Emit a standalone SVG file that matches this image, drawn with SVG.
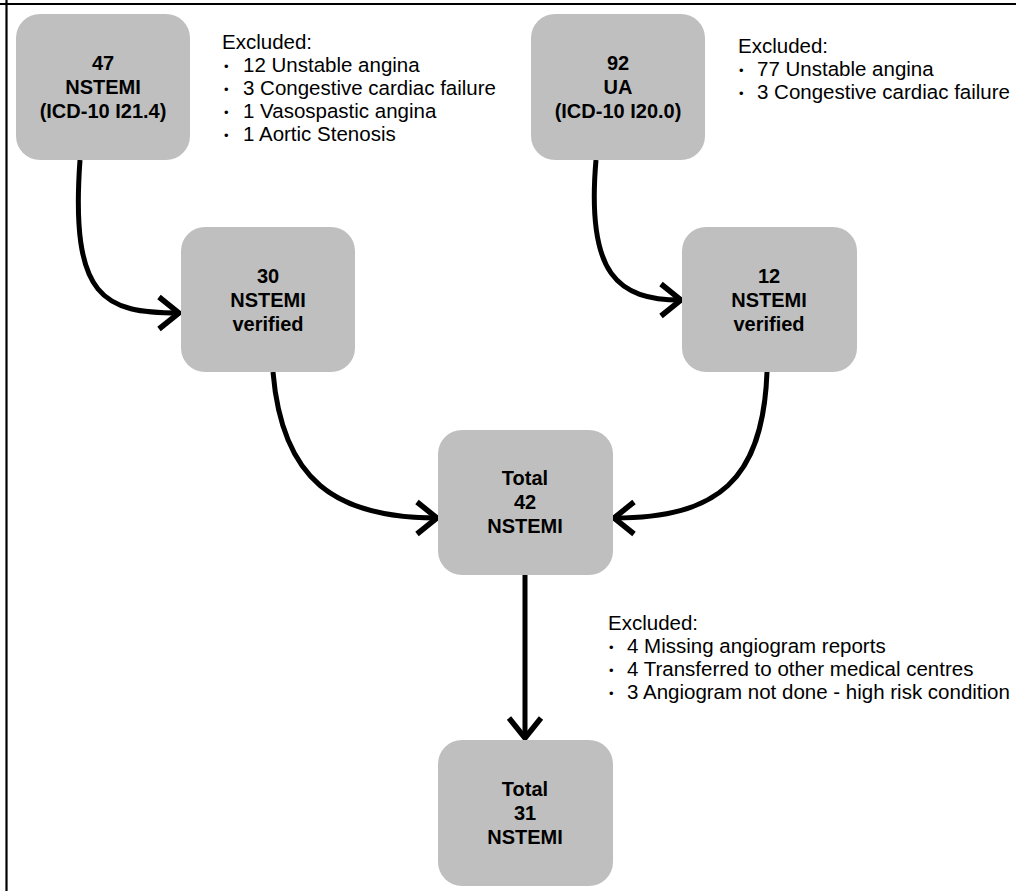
<svg xmlns="http://www.w3.org/2000/svg" width="1016" height="891" viewBox="0 0 1016 891">
<defs>
<marker id="chev" viewBox="0 0 28 38" refX="24" refY="19" markerWidth="28" markerHeight="38" orient="auto" markerUnits="userSpaceOnUse">
<path d="M4,3 L24,19 L4,35" fill="none" stroke="#000" stroke-width="5.5" stroke-linecap="butt" stroke-linejoin="miter"/>
</marker>
</defs>
<style>
.box{fill:#bfbfbf;}
.nt{font-family:"Liberation Sans",Arial,sans-serif;font-weight:bold;font-size:20px;fill:#000;text-anchor:middle;}
.ex{font-family:"Liberation Sans",Arial,sans-serif;font-size:20.5px;fill:#000;}
.bl{font-family:"Liberation Sans",Arial,sans-serif;font-size:13px;fill:#000;}
.edge{fill:none;stroke:#000;stroke-width:5;marker-end:url(#chev);}
.frame{stroke:#000;stroke-width:2.2;}
</style>
<rect width="1016" height="891" fill="#fff"/>
<line class="frame" x1="0" y1="4" x2="1016" y2="4"/>
<line class="frame" x1="6.5" y1="0" x2="6.5" y2="891"/>

<g id="connectors">
<path class="edge" d="M80,160 C70,300 105,313 179,313"/>
<path class="edge" d="M596,160 C586,275 618,300 681,300"/>
<path class="edge" d="M273,372 C282,480 335,518 437,518"/>
<path class="edge" d="M767,372 C763,480 718,518 614,518"/>
<path class="edge" d="M525,575 L525,738"/>
</g>

<g id="n47">
<rect class="box" x="16" y="14" width="174" height="146" rx="24"/>
<text class="nt" x="103" y="70">47</text>
<text class="nt" x="103" y="94">NSTEMI</text>
<text class="nt" x="103" y="118">(ICD-10 I21.4)</text>
</g>
<g id="n92">
<rect class="box" x="531" y="14" width="174" height="146" rx="24"/>
<text class="nt" x="618" y="70">92</text>
<text class="nt" x="618" y="94">UA</text>
<text class="nt" x="618" y="118">(ICD-10 I20.0)</text>
</g>
<g id="n30">
<rect class="box" x="181" y="227" width="174" height="145" rx="24"/>
<text class="nt" x="268" y="283">30</text>
<text class="nt" x="268" y="307">NSTEMI</text>
<text class="nt" x="268" y="331">verified</text>
</g>
<g id="n12">
<rect class="box" x="682" y="227" width="175" height="145" rx="24"/>
<text class="nt" x="769" y="283">12</text>
<text class="nt" x="769" y="307">NSTEMI</text>
<text class="nt" x="769" y="331">verified</text>
</g>
<g id="n42">
<rect class="box" x="438" y="430" width="175" height="145" rx="24"/>
<text class="nt" x="525" y="485">Total</text>
<text class="nt" x="525" y="509">42</text>
<text class="nt" x="525" y="533">NSTEMI</text>
</g>
<g id="n31">
<rect class="box" x="438" y="740" width="175" height="146" rx="24"/>
<text class="nt" x="525" y="796">Total</text>
<text class="nt" x="525" y="820">31</text>
<text class="nt" x="525" y="844">NSTEMI</text>
</g>

<g id="excl-left">
<text class="ex" x="222" y="49">Excluded:</text>
<text class="bl" x="224" y="71">•</text><text class="ex" x="243" y="72">12 Unstable angina</text>
<text class="bl" x="224" y="94">•</text><text class="ex" x="243" y="95">3 Congestive cardiac failure</text>
<text class="bl" x="224" y="117">•</text><text class="ex" x="243" y="118">1 Vasospastic angina</text>
<text class="bl" x="224" y="140">•</text><text class="ex" x="243" y="141">1 Aortic Stenosis</text>
</g>
<g id="excl-right">
<text class="ex" x="738" y="53">Excluded:</text>
<text class="bl" x="739" y="75">•</text><text class="ex" x="757" y="76">77 Unstable angina</text>
<text class="bl" x="739" y="98">•</text><text class="ex" x="757" y="99">3 Congestive cardiac failure</text>
</g>
<g id="excl-bottom">
<text class="ex" x="608" y="630">Excluded:</text>
<text class="bl" x="609" y="652">•</text><text class="ex" x="627" y="653">4 Missing angiogram reports</text>
<text class="bl" x="609" y="675">•</text><text class="ex" x="627" y="676">4 Transferred to other medical centres</text>
<text class="bl" x="609" y="698">•</text><text class="ex" x="627" y="699">3 Angiogram not done - high risk condition</text>
</g>
</svg>
